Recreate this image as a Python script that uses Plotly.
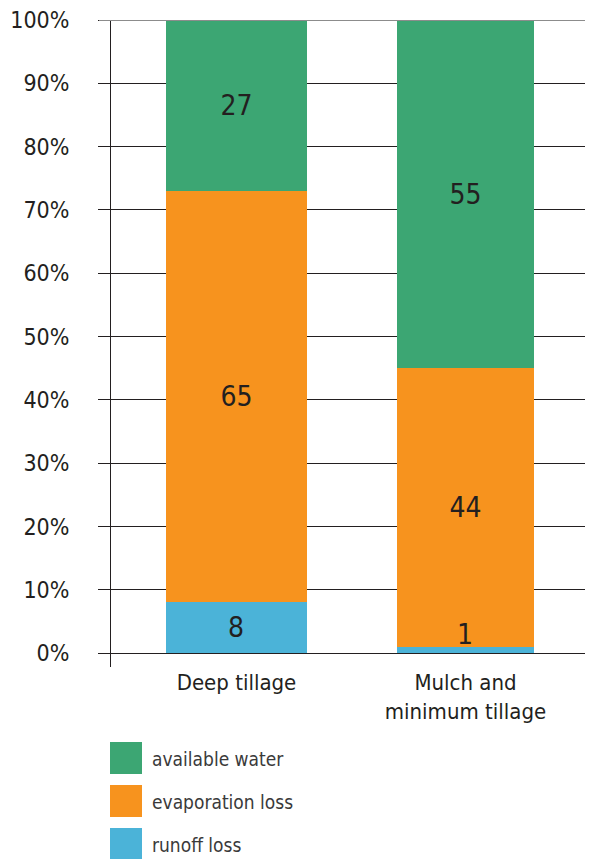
import plotly.graph_objects as go

# ---- data ----
categories = ["Deep tillage", "Mulch and<br>minimum tillage"]
series_names = ["runoff loss", "evaporation loss", "available water"]
runoff_loss = [8, 1]
evaporation_loss = [65, 44]
available_water = [27, 55]
y_tick_values = [0, 10, 20, 30, 40, 50, 60, 70, 80, 90, 100]
y_tick_labels = ["0%", "10%", "20%", "30%", "40%", "50%", "60%", "70%", "80%", "90%", "100%"]

colors = {"runoff loss": "#4bb3d8", "evaporation loss": "#f7931e", "available water": "#3ca673"}
series_values = {"runoff loss": runoff_loss, "evaporation loss": evaporation_loss,
                 "available water": available_water}

FONT = "Liberation Sans Narrow, DejaVu Sans Condensed, Roboto, sans-serif"
TEXT = "#231f20"
LABEL_SIZE = 28

OFF = 8  # page body margin
W, H = 593 - OFF, 859 - OFF
ML, MR, MT, MB = 111 - OFF, 0, 20 - OFF, 192
PW, PH = W - ML - MR, H - MT - MB
Y_RANGE = [-2.2, 100]
PX_PER_UNIT = PH / (Y_RANGE[1] - Y_RANGE[0])

fig = go.Figure()
for name in series_names:
    vals = series_values[name]
    inside_labels = name != "runoff loss"
    fig.add_trace(go.Bar(
        x=categories, y=vals, name=name,
        marker=dict(color=colors[name], line=dict(width=0)),
        width=[0.615, 0.6],
        text=[str(v) for v in vals] if inside_labels else None,
        textposition="inside", insidetextanchor="middle", textangle=0,
        textfont=dict(family=FONT, size=LABEL_SIZE, color=TEXT),
        constraintext="none", cliponaxis=False,
        showlegend=False, hoverinfo="skip",
    ))

# runoff labels: centred in the segment, or resting on the baseline if the segment is too thin
for cat, v in zip(categories, runoff_loss):
    fits = v * PX_PER_UNIT >= LABEL_SIZE * 0.9
    fig.add_annotation(x=cat, y=v / 2 if fits else 0, xref="x", yref="y",
                       text=str(v), showarrow=False,
                       yanchor="middle" if fits else "bottom",
                       font=dict(family=FONT, size=LABEL_SIZE, color=TEXT))

# custom legend (squares + labels), top-to-bottom order
legend_order = ["available water", "evaporation loss", "runoff loss"]
def py(p):  # reference pixel y -> paper y
    return (H - MB - (p - OFF)) / PH
def px(p):  # reference pixel x -> paper x
    return ((p - OFF) - ML) / PW
for i, name in enumerate(legend_order):
    top = 742 + i * 43
    fig.add_shape(type="rect", xref="paper", yref="paper",
                  x0=px(110), x1=px(142), y0=py(top + 32), y1=py(top),
                  fillcolor=colors[name], line=dict(width=0))
    fig.add_annotation(xref="paper", yref="paper", x=px(150), y=py(top + 17),
                       text=name, showarrow=False, xanchor="left", yanchor="middle",
                       font=dict(family=FONT, size=19, color="#3a3a3a"))

# top 100% line in grey
fig.add_shape(type="line", xref="paper", yref="y", x0=px(99), x1=1, y0=100, y1=100,
              line=dict(color="#8c8c8c", width=2), layer="above")

fig.update_layout(
    width=W, height=H, barmode="stack",
    margin=dict(l=ML, r=MR, t=MT, b=MB, pad=0),
    paper_bgcolor="white", plot_bgcolor="white",
    font=dict(family=FONT, color=TEXT),
    uniformtext=dict(minsize=LABEL_SIZE, mode="show"),
    xaxis=dict(range=[-0.548, 1.557], showgrid=False, zeroline=False, showline=False,
               ticks="", tickfont=dict(family=FONT, size=22, color=TEXT)),
    yaxis=dict(range=Y_RANGE, tickvals=y_tick_values, ticktext=y_tick_labels,
               showgrid=True, gridcolor="#231f20", gridwidth=1,
               zeroline=True, zerolinecolor="#231f20", zerolinewidth=1,
               showline=True, linecolor="#231f20", linewidth=1,
               ticks="outside", ticklen=12, tickcolor="#231f20", tickwidth=1,
               ticklabelstandoff=24, ticklabeloverflow="allow",
               tickfont=dict(family=FONT, size=23, color=TEXT)),
)

fig.write_html("out.html")
